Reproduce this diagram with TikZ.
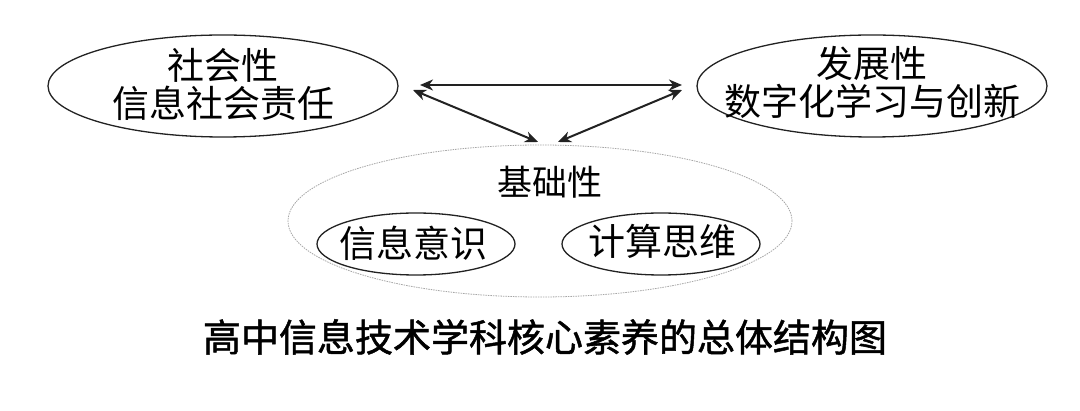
\documentclass[tikz,border=0pt]{standalone}
\usepackage{fontspec}
\setmainfont{Noto Sans CJK SC}
\newfontfamily\titlefont[FakeBold=1.3]{Noto Sans CJK SC}
\usetikzlibrary{shapes.geometric,arrows.meta}
\definecolor{ink}{HTML}{222222}
\tikzset{
  oval/.style={ellipse,draw=ink,line width=1.3pt,inner sep=0pt},
  outer/.style={oval,minimum width=350pt,minimum height=102pt},
  inner/.style={oval,minimum width=198pt,minimum height=62pt},
  label/.style={inner sep=0pt,align=center,font=\fontsize{37}{38}\selectfont},
  base/.style={ellipse,draw=gray!70,line width=0.8pt,dash pattern=on 1.5pt off 1pt,minimum width=504pt,minimum height=152pt,inner sep=0pt},
  link/.style={draw=ink,line width=2pt,{Stealth[length=13pt,width=11pt,inset=4pt]}-{Stealth[length=13pt,width=11pt,inset=4pt]}}
}
\begin{document}
\begin{tikzpicture}[x=1pt,y=-1pt]
\useasboundingbox[fill=white] (0,0) rectangle (1080,411);
\node[outer] (soc) at (223,86) {};
\node[label] (soct) at (223,84) {社会性\\信息社会责任};
\node[outer] (dev) at (872,86) {};
\node[label] (devt) at (872,82) {发展性\\数字化学习与创新};
\node[base] (base) at (540,221) {};
\node[label,font=\fontsize{35}{36}\selectfont] (baset) at (550,182) {基础性};
\node[inner] (info) at (416,244) {};
\node[label] (infot) at (413,243) {信息意识};
\node[inner] (comp) at (661,244) {};
\node[label] (compt) at (662,241) {计算思维};
\node[font=\titlefont\fontsize{38}{40}\selectfont] (title) at (545,337) {高中信息技术学科核心素养的总体结构图};
\coordinate (a1) at (420,85);
\coordinate (a2) at (682,85);
\coordinate (b1) at (413,90);
\coordinate (b2) at (538,142);
\coordinate (c1) at (682,90);
\coordinate (c2) at (558,142);
\draw[link] (a1) -- (a2);
\draw[link] (b1) -- (b2);
\draw[link] (c1) -- (c2);
\end{tikzpicture}
\end{document}
